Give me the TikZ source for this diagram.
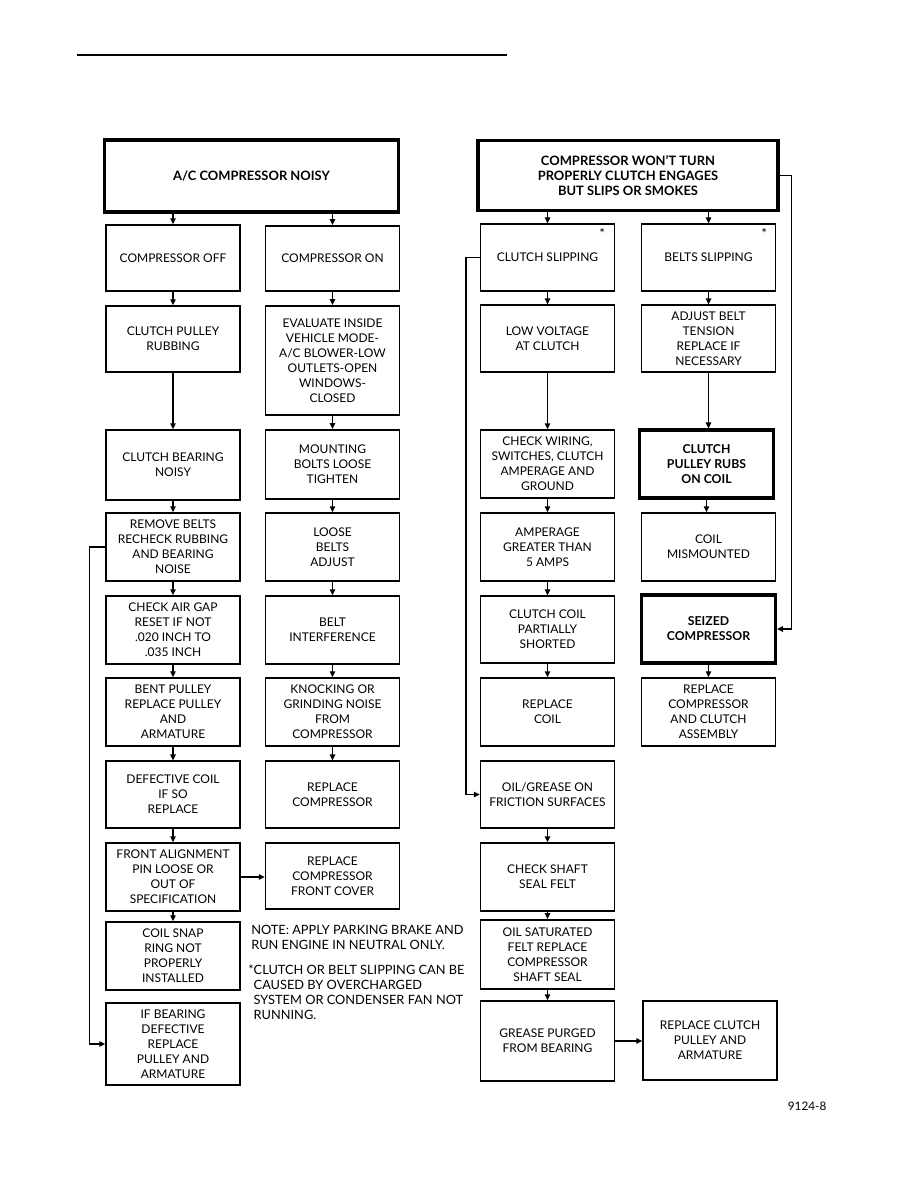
\documentclass[tikz,border=0pt]{standalone}
\usepackage{fontspec}
\setmainfont{Lato}
\usetikzlibrary{arrows.meta}
\newcommand{\flowtip}{Triangle[length=4.5pt,width=4pt]}

\tikzset{
  box/.style={draw, line width=1.1pt, align=center, inner sep=2pt,
    minimum width=100.5pt, font=\fontsize{9}{11.2}\selectfont},
  keybox/.style={box, line width=2.3pt, font=\fontsize{9.2}{11.2}\selectfont\bfseries},
  headbox/.style={box, line width=2.3pt, font=\fontsize{9.7}{11.2}\selectfont\bfseries},
  flow/.style={-\flowtip, line width=1.1pt},
  note/.style={align=left, anchor=north west, inner sep=0pt,
    font=\fontsize{9.6}{11.2}\selectfont}
}

\begin{document}
\begin{tikzpicture}[x=0.75pt, y=-0.75pt]
  % frame is the page in pixels, (0,0) top left to (918,1188)
  \useasboundingbox (0,0) rectangle (918,1188);
  \draw[line width=1.6pt] (77,55) -- (507,55);

  % left chart: compressor noisy
  \node[headbox, minimum width=221pt, minimum height=54pt] (titleL) at (251.5,176) {A/C COMPRESSOR NOISY};

  \node[box, minimum height=49.5pt] (off) at (173,258) {COMPRESSOR OFF};
  \node[box, minimum height=49.5pt] (pulley) at (173,339) {CLUTCH PULLEY\\RUBBING};
  \node[box, minimum height=52.5pt] (bearing) at (173,465) {CLUTCH BEARING\\NOISY};
  \node[box, minimum height=51pt] (remove) at (173,547) {REMOVE BELTS\\RECHECK RUBBING\\AND BEARING\\NOISE};
  \node[box, minimum height=51pt] (airgap) at (173,630) {CHECK AIR GAP\\RESET IF NOT\\.020 INCH TO\\.035 INCH};
  \node[box, minimum height=51pt] (bent) at (173,712) {BENT PULLEY\\REPLACE PULLEY\\AND\\ARMATURE};
  \node[box, minimum height=50pt] (defcoil) at (173,794.5) {DEFECTIVE COIL\\IF SO\\REPLACE};
  \node[box, minimum height=51pt] (front) at (173,877) {FRONT ALIGNMENT\\PIN LOOSE OR\\OUT OF\\SPECIFICATION};
  \node[box, minimum height=51pt] (snap) at (173,956) {COIL SNAP\\RING NOT\\PROPERLY\\INSTALLED};
  \node[box, minimum height=61.5pt] (ifbearing) at (173,1044) {IF BEARING\\DEFECTIVE\\REPLACE\\PULLEY AND\\ARMATURE};

  \node[box, minimum height=49pt] (on) at (332.5,258.5) {COMPRESSOR ON};
  \node[box, minimum height=82pt] (evaluate) at (332.5,360.5) {EVALUATE INSIDE\\VEHICLE MODE-\\A/C BLOWER-LOW\\OUTLETS-OPEN\\WINDOWS-\\CLOSED};
  \node[box, minimum height=52pt] (mounting) at (332.5,464.5) {MOUNTING\\BOLTS LOOSE\\TIGHTEN};
  \node[box, minimum height=51pt] (loose) at (332.5,547) {LOOSE\\BELTS\\ADJUST};
  \node[box, minimum height=51pt] (interf) at (332.5,630) {BELT\\INTERFERENCE};
  \node[box, minimum height=51pt] (knock) at (332.5,712) {KNOCKING OR\\GRINDING NOISE\\FROM\\COMPRESSOR};
  \node[box, minimum height=50pt] (replcomp) at (332.5,794.5) {REPLACE\\COMPRESSOR};
  \node[box, minimum height=49.5pt] (frontcover) at (332.5,876) {REPLACE\\COMPRESSOR\\FRONT COVER};

  \draw[flow] (titleL.south -| off) -- (off);
  \draw[flow] (titleL.south -| on) -- (on);
  \foreach \a/\b in {off/pulley, pulley/bearing, bearing/remove, remove/airgap,
      airgap/bent, bent/defcoil, defcoil/front, front/snap,
      on/evaluate, evaluate/mounting, mounting/loose, loose/interf,
      interf/knock, knock/replcomp}
    \draw[flow] (\a) -- (\b);
  \draw[flow] (front.east) -- (front.east -| frontcover.west);
  \draw[flow] (remove.west) -- ++(-16,0) |- (ifbearing.west);

  % notes
  \node[note] (note1) at (251,925) {NOTE: APPLY PARKING BRAKE AND\\RUN ENGINE IN NEUTRAL ONLY.};
  \node[note] (note2) at (248,965) {*CLUTCH OR BELT SLIPPING CAN BE\\\hphantom{*}CAUSED BY OVERCHARGED\\\hphantom{*}SYSTEM OR CONDENSER FAN NOT\\\hphantom{*}RUNNING.};

  % right chart: compressor won't turn
  \node[headbox, minimum width=225pt, minimum height=53pt] (titleR) at (628,175.5) {COMPRESSOR WON'T TURN\\PROPERLY CLUTCH ENGAGES\\BUT SLIPS OR SMOKES};

  \node[box, minimum height=50pt] (clslip) at (547.5,257.5) {CLUTCH SLIPPING};
  \node[box, minimum height=50pt] (lowvolt) at (547.5,338.5) {LOW VOLTAGE\\AT CLUTCH};
  \node[box, minimum height=51pt] (wiring) at (547.5,464) {CHECK WIRING,\\SWITCHES, CLUTCH\\AMPERAGE AND\\GROUND};
  \node[box, minimum height=51pt] (amp) at (547.5,547) {AMPERAGE\\GREATER THAN\\5 AMPS};
  \node[box, minimum height=50pt] (shorted) at (547.5,629.5) {CLUTCH COIL\\PARTIALLY\\SHORTED};
  \node[box, minimum height=51pt] (replcoil) at (547.5,712) {REPLACE\\COIL};
  \node[box, minimum height=50pt] (oil) at (547.5,794.5) {OIL/GREASE ON\\FRICTION SURFACES};
  \node[box, minimum height=51pt] (shaft) at (547.5,877) {CHECK SHAFT\\SEAL FELT};
  \node[box, minimum height=52pt] (saturated) at (547.5,954.5) {OIL SATURATED\\FELT REPLACE\\COMPRESSOR\\SHAFT SEAL};
  \node[box, minimum height=60pt] (purged) at (547.5,1041) {GREASE PURGED\\FROM BEARING};

  \node[box, minimum height=50pt] (beltslip) at (708.5,257.5) {BELTS SLIPPING};
  \node[box, minimum height=50pt] (adjust) at (708.5,338.5) {ADJUST BELT\\TENSION\\REPLACE IF\\NECESSARY};
  \node[keybox, minimum height=51pt] (rubs) at (706.5,464) {CLUTCH\\PULLEY RUBS\\ON COIL};
  \node[box, minimum height=51pt] (mismount) at (708.5,547) {COIL\\MISMOUNTED};
  \node[keybox, minimum height=51pt] (seized) at (708.5,629) {SEIZED\\COMPRESSOR};
  \node[box, minimum height=51pt] (replassy) at (708.5,712) {REPLACE\\COMPRESSOR\\AND CLUTCH\\ASSEMBLY};
  \node[box, minimum height=59pt] (replpulley) at (710,1040.5) {REPLACE CLUTCH\\PULLEY AND\\ARMATURE};

  % slipping marks
  \node[font=\normalsize] (starC) at ([shift={(-13,10)}]clslip.north east) {*};
  \node[font=\normalsize] (starD) at ([shift={(-12,10)}]beltslip.north east) {*};

  \draw[flow] (titleR.south -| clslip) -- (clslip);
  \draw[flow] (titleR.south -| beltslip) -- (beltslip);
  \foreach \a/\b in {clslip/lowvolt, lowvolt/wiring, wiring/amp, amp/shorted,
      shorted/replcoil, oil/shaft, shaft/saturated, saturated/purged,
      beltslip/adjust, seized/replassy}
    \draw[flow] (\a) -- (\b);
  \draw[flow] (adjust.south) -- (adjust.south |- rubs.north);
  \draw[flow] (rubs.south) -- (rubs.south |- mismount.north);
  \draw[flow] (purged.east) -- (purged.east -| replpulley.west);
  \draw[flow] (clslip.west) -- ++(-14,0) |- (oil.west);
  \draw[flow] (titleR.east) -- ++(12,0) |- (seized.east);

  \node[font=\fontsize{8.8}{10}\selectfont, anchor=east] (figno) at (831,1106) {9124-8};
\end{tikzpicture}
\end{document}
